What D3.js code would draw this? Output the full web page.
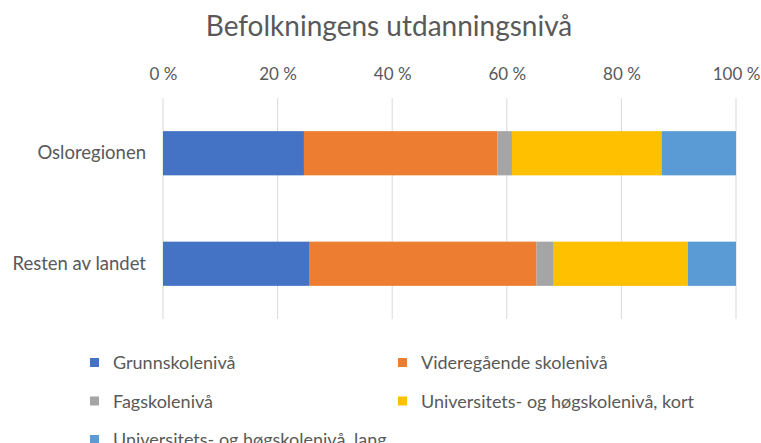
<!DOCTYPE html>
<html>
<head>
  <meta charset="UTF-8">
  <title>Befolkningens utdanningsnivå</title>
  <style>
    body { margin: 0; background: #fff; }
    svg text { font-family: Lato, "Open Sans", sans-serif; fill: #595959; }
  </style>
</head>
<body>
  <svg id="chart"></svg>
  <script src="https://d3js.org/d3.v7.min.js"></script>
  <script>
    // data (percent)
    var regions = ["Osloregionen", "Resten av landet"];
    var levels = ["Grunnskolenivå", "Videregående skolenivå", "Fagskolenivå",
                  "Universitets- og høgskolenivå, kort", "Universitets- og høgskolenivå, lang"];
    var grunnskole   = [24.6, 25.6];
    var videregaaende = [33.8, 39.6];
    var fagskole     = [2.5, 3.0];
    var uniKort      = [26.1, 23.4];
    var uniLang      = [13.0, 8.4];
    var colors = ["#4472C4", "#ED7D31", "#A5A5A5", "#FFC000", "#5B9BD5"];
    var tickValues = [0, 20, 40, 60, 80, 100];

    var series = [grunnskole, videregaaende, fagskole, uniKort, uniLang];
    var rows = regions.map(function(r, i) {
      var row = {region: r};
      levels.forEach(function(l, j) { row[l] = series[j][i]; });
      return row;
    });

    var W = 761, H = 443;
    var svg = d3.select("#chart").attr("width", W).attr("height", H);

    var x = d3.scaleLinear().domain([0, 100]).range([163, 736]);
    var y = d3.scaleBand().domain(regions).range([98, 319])
      .paddingInner(0.6).paddingOuter(0.3);

    // title
    svg.append("text")
      .attr("x", 389).attr("y", 36)
      .attr("text-anchor", "middle")
      .style("font-size", "28px")
      .text("Befolkningens utdanningsnivå");

    // gridlines
    svg.append("g").selectAll("line")
      .data(tickValues)
      .enter().append("line")
      .attr("x1", function(d) { return x(d); })
      .attr("x2", function(d) { return x(d); })
      .attr("y1", 98).attr("y2", 319)
      .attr("stroke", "#D9D9D9").attr("stroke-width", 1);

    // top axis labels
    var xAxis = svg.append("g")
      .attr("transform", "translate(0,80)")
      .call(d3.axisTop(x).tickValues(tickValues).tickSize(0).tickPadding(0)
        .tickFormat(function(d) { return d + " %"; }));
    xAxis.select(".domain").remove();
    xAxis.selectAll("text").style("font-size", "17px").attr("fill", "#595959").attr("dy", 0);

    // left axis labels
    var yAxis = svg.append("g")
      .attr("transform", "translate(146,0)")
      .call(d3.axisLeft(y).tickSize(0).tickPadding(0));
    yAxis.select(".domain").remove();
    yAxis.selectAll("text").style("font-size", "18.5px").attr("fill", "#595959");

    // stacked bars
    var stacked = d3.stack().keys(levels)(rows);
    svg.append("g").selectAll("g")
      .data(stacked)
      .enter().append("g")
      .attr("fill", function(d, i) { return colors[i]; })
      .selectAll("rect")
      .data(function(d) { return d; })
      .enter().append("rect")
      .attr("x", function(d) { return x(d[0]); })
      .attr("width", function(d) { return x(d[1]) - x(d[0]); })
      .attr("y", function(d) { return y(d.data.region); })
      .attr("height", y.bandwidth());

    // legend
    var legend = svg.append("g").selectAll("g")
      .data(levels)
      .enter().append("g")
      .attr("transform", function(d, i) {
        return "translate(" + (i % 2 === 0 ? 90 : 398) + "," + (363 + Math.floor(i / 2) * 38.5) + ")";
      });
    legend.append("rect")
      .attr("x", 0).attr("y", -5).attr("width", 9).attr("height", 9)
      .attr("fill", function(d, i) { return colors[i]; });
    legend.append("text")
      .attr("x", 23).attr("y", 0).attr("dy", "0.35em")
      .style("font-size", "18px")
      .text(function(d) { return d; });
  </script>
</body>
</html>
